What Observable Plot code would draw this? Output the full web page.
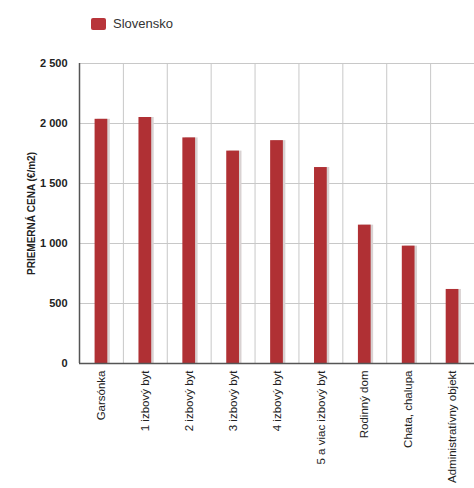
<!DOCTYPE html>
<html>
<head>
<meta charset="utf-8">
<script src="https://cdn.jsdelivr.net/npm/d3@7"></script>
<script src="https://cdn.jsdelivr.net/npm/@observablehq/plot@0.6"></script>
<style>
  body { margin: 0; background: #fff; font-family: "Liberation Sans", Arial, sans-serif; }
  #wrap { position: relative; width: 474px; height: 488px; overflow: hidden; }
  #legend { position: absolute; left: 91px; top: 16px; display: flex; align-items: center; font-size: 13px; color: #333; }
  #legend span.sw { display: inline-block; width: 15px; height: 12px; border-radius: 2px; background: #b8353a; margin-right: 7px; }
</style>
</head>
<body>
<div id="wrap">
  <div id="legend"><span class="sw"></span>Slovensko</div>
  <div id="chart"></div>
</div>
<script>
// typy nehnuteľností a priemerná cena (€/m2)
const kategorie = ['Garsónka', '1 izbový byt', '2 izbový byt', '3 izbový byt', '4 izbový byt',
  '5 a viac izbový byt', 'Rodinný dom', 'Chata, chalupa', 'Administratívny objekt']
const ceny = [2035, 2050, 1880, 1770, 1857, 1633, 1153, 978, 617]
const yTicky = [0, 500, 1000, 1500, 2000, 2500]

const data = kategorie.map((k, i) => ({ typ: k, cena: ceny[i] }))

const fmt = d3.format(',.0f')
const tickFmt = d => fmt(d).replace(/,/g, ' ')

const width = 474
const marginLeft = 79
const marginRight = 0
const step = (width - marginLeft - marginRight) / kategorie.length

let chart = Plot.plot({
  width: width,
  height: 488,
  marginLeft: marginLeft,
  marginRight: marginRight,
  marginTop: 63,
  marginBottom: 125,
  style: { fontFamily: '"Liberation Sans", Arial, sans-serif', background: 'transparent' },
  x: { domain: kategorie, paddingInner: 0.71, paddingOuter: 0.355, round: false, label: null },
  y: { domain: [0, 2500], label: null },
  marks: [
    Plot.gridY(yTicky, { stroke: '#c8c8c8', strokeOpacity: 1 }),
    // zvislé deliace čiary medzi kategóriami
    Plot.ruleX(kategorie, { x: d => d, dx: step / 2, stroke: '#c8c8c8', y1: 0, y2: 2500 }),
    // tieň stĺpcov
    Plot.barY(data, { x: 'typ', y: 'cena', dx: 2.5, fill: '#d9d2d2' }),
    Plot.barY(data, { x: 'typ', y: 'cena', fill: '#b03034' }),
    Plot.axisY({
      ticks: yTicky, tickFormat: tickFmt, tickSize: 0, tickPadding: 12,
      fontSize: 11, fontWeight: 'bold', fill: '#222',
      label: 'PRIEMERNÁ CENA (€/m2)', labelAnchor: 'center', labelArrow: 'none', labelOffset: 52
    }),
    Plot.axisX({
      tickSize: 0, tickPadding: 7, tickRotate: -90, fontSize: 11.5, fill: '#222',
      label: null
    }),
    Plot.ruleX([0], { x: () => kategorie[0], dx: -step / 2, stroke: '#555', strokeWidth: 1.5, y1: 0, y2: 2500 }),
    Plot.ruleY([0], { stroke: '#555', strokeWidth: 1.5 })
  ]
})

d3.select(chart).selectAll('g[aria-label="y-axis label"] text').attr('font-weight', 'bold').attr('font-size', 10)
d3.select('#chart').append(() => chart)
</script>
</body>
</html>
